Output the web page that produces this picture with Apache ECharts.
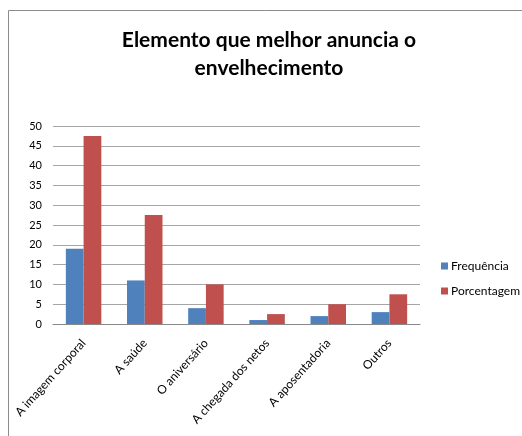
<!DOCTYPE html>
<html><head><meta charset="utf-8">
<script src="https://cdn.jsdelivr.net/npm/echarts@6/dist/echarts.min.js"></script>
<style>html,body{margin:0;padding:0;background:#fff}#c{width:522px;height:436px}</style>
</head><body><div id="c"></div>
<script>
var categories = ['A imagem corporal','A saúde','O aniversário','A chegada dos netos','A aposentadoria','Outros'];
var frequencia = [19, 11, 4, 1, 2, 3];
var porcentagem = [47.5, 27.5, 10, 2.5, 5, 7.5];
var seriesNames = ['Frequência','Porcentagem'];
var FONT = 'Lato, "Open Sans", sans-serif';
var chart = echarts.init(document.getElementById('c'));
chart.setOption({
  animation: false,
  backgroundColor: '#fff',
  graphic: [{type:'rect', shape:{x:8.5,y:10.5,width:600,height:600}, style:{fill:'none', stroke:'#8c8c8c', lineWidth:1}, silent:true}],
  title: {
    text: 'Elemento que melhor anuncia o\nenvelhecimento',
    left: 264, top: 21, textAlign: 'center',
    textStyle: {fontFamily: FONT, fontSize: 21, fontWeight: 'bold', color: '#000', lineHeight: 28}
  },
  legend: {
    orient: 'vertical', left: 436, top: 255, itemWidth: 7, itemHeight: 7, itemGap: 13,
    icon: 'rect',
    textStyle: {fontFamily: FONT, fontSize: 12, color: '#000', padding:[0,0,0,-2]},
    data: seriesNames
  },
  grid: {left: 53, top: 126, width: 367, height: 198, containLabel: false},
  xAxis: {
    type: 'category', data: categories,
    axisLine: {lineStyle: {color: '#888'}},
    axisTick: {show: false},
    axisLabel: {rotate: 48, interval: 0, fontFamily: FONT, fontSize: 12, color: '#000', margin: 17}
  },
  yAxis: {
    type: 'value', min: 0, max: 50, interval: 5,
    axisLine: {show: false}, axisTick: {show: false},
    splitLine: {lineStyle: {color: '#a6a6a6'}},
    axisLabel: {fontFamily: FONT, fontSize: 11, color: '#000', margin: 11}
  },
  series: [
    {name: seriesNames[0], type: 'bar', data: frequencia, barGap: '0%', barCategoryGap: '42%', itemStyle: {color: '#4F81BD'}},
    {name: seriesNames[1], type: 'bar', data: porcentagem, barGap: '0%', barCategoryGap: '42%', itemStyle: {color: '#C0504D'}}
  ]
});
</script></body></html>
